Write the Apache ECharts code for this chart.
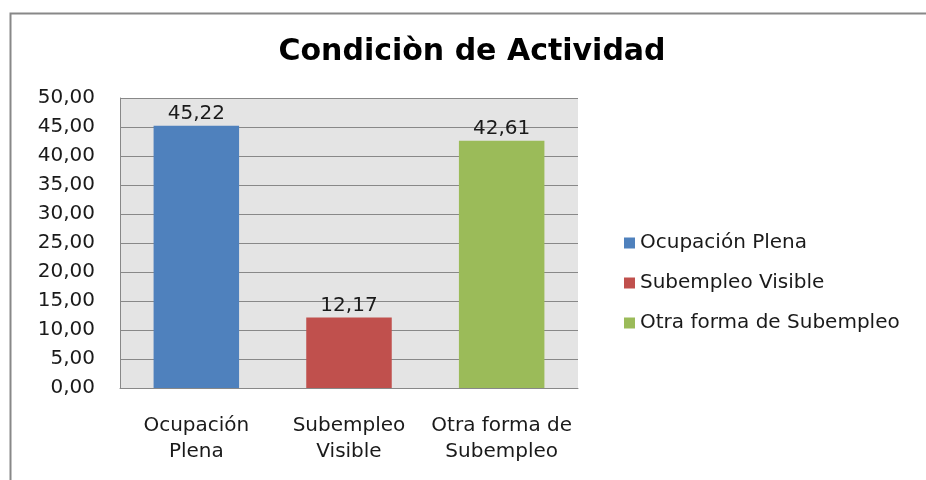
<!DOCTYPE html>
<html><head><meta charset="utf-8">
<script src="https://cdn.jsdelivr.net/npm/echarts@6/dist/echarts.min.js"></script>
<style>html,body{margin:0;padding:0;background:#fff}#c{width:926px;height:480px}</style>
</head><body><div id="c"></div>
<script>
const categories = ['Ocupación\nPlena', 'Subempleo\nVisible', 'Otra forma de\nSubempleo'];
const seriesNames = ['Ocupación Plena', 'Subempleo Visible', 'Otra forma de Subempleo'];
const values = [45.22, 12.17, 42.61];
const colors = ['#4f81bd', '#c0504d', '#9bbb59'];
const yTicks = [0, 5, 10, 15, 20, 25, 30, 35, 40, 45, 50];

const fmt = v => Number(v).toFixed(2).replace('.', ',');
const font = '"DejaVu Sans", sans-serif';

const series = seriesNames.map((name, i) => ({
  name: name,
  type: 'bar',
  stack: 'all',
  barWidth: '56%',
  itemStyle: { color: colors[i] },
  label: { show: true, position: 'top', distance: 2, formatter: p => fmt(p.value), fontSize: 20, color: '#1a1a1a', fontFamily: font },
  data: values.map((v, j) => (j === i ? v : null))
}));

const chart = echarts.init(document.getElementById('c'), null, { renderer: 'canvas' });
chart.setOption({
  animation: false,
  backgroundColor: '#ffffff',
  title: {
    text: 'Condiciòn de Actividad',
    left: 467, top: 32, textAlign: 'center',
    textStyle: { fontSize: 30, fontWeight: 'bold', color: '#000', fontFamily: font }
  },
  graphic: [{
    type: 'rect', left: 8, top: 11, silent: true, z: -1,
    shape: { width: 1000, height: 600 },
    style: { fill: 'none', stroke: '#888', lineWidth: 2 }
  }],
  legend: {
    orient: 'vertical', left: 619, top: 228,
    itemWidth: 11, itemHeight: 11, itemGap: 20, icon: 'rect',
    textStyle: { fontSize: 20, color: '#1a1a1a', fontFamily: font },
    data: seriesNames
  },
  grid: { left: 120, top: 98, right: 348, bottom: 92, show: true, backgroundColor: '#e4e4e4', borderWidth: 0 },
  xAxis: {
    type: 'category', data: categories,
    axisLine: { show: true, lineStyle: { color: '#888', width: 1 } },
    axisTick: { show: false },
    axisLabel: { fontSize: 20, color: '#1a1a1a', margin: 25, lineHeight: 26, fontFamily: font, interval: 0 }
  },
  yAxis: {
    type: 'value', min: yTicks[0], max: yTicks[yTicks.length - 1], interval: 5,
    axisLine: { show: true, lineStyle: { color: '#888', width: 1 } },
    axisTick: { show: false },
    splitLine: { show: true, lineStyle: { color: '#888', width: 1 } },
    axisLabel: { fontSize: 20, color: '#1a1a1a', margin: 25, fontFamily: font, formatter: v => fmt(v) }
  },
  series: series
});
</script></body></html>
